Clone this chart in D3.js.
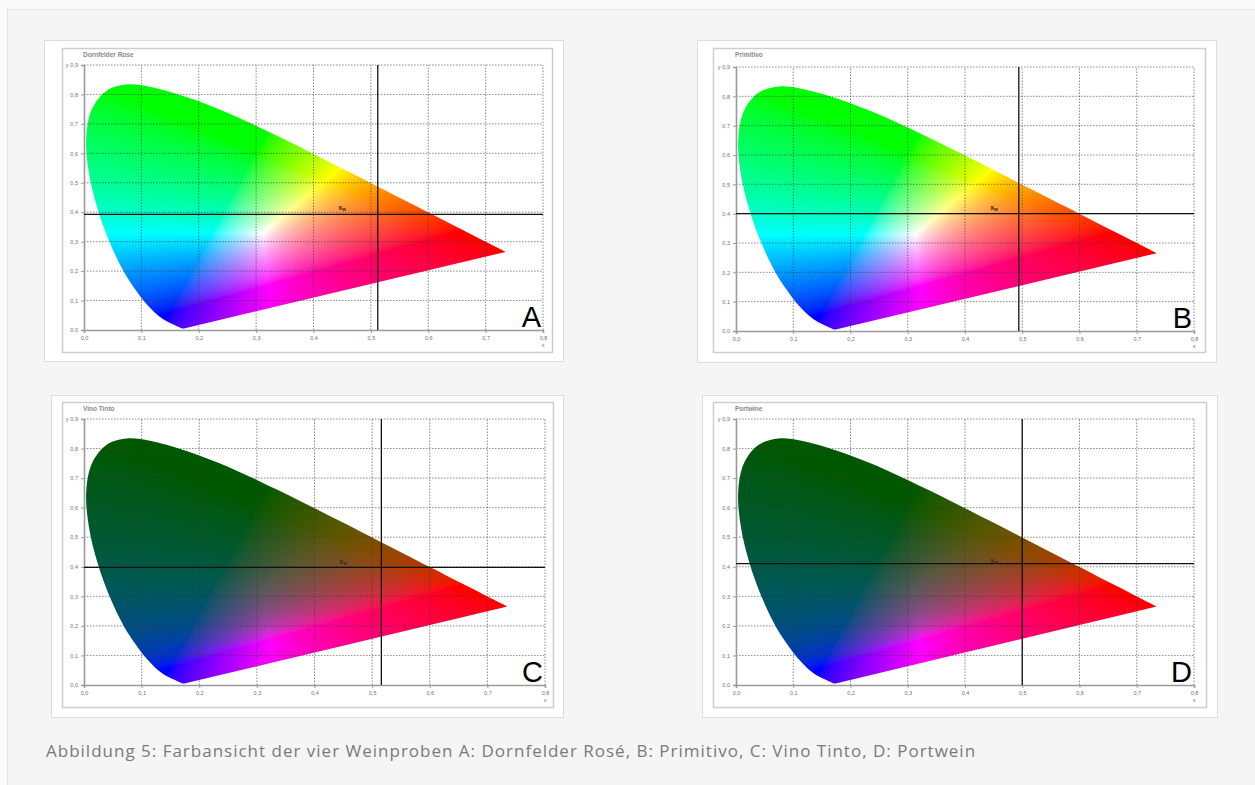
<!DOCTYPE html>
<html>
<head>
<meta charset="utf-8">
<script src="https://cdn.jsdelivr.net/npm/d3@7"></script>
<style>
body { margin: 0; background: #fafafa; }
</style>
</head>
<body>
<svg id="fig" width="1255" height="785"></svg>
<script>
// CIE 1931 spectral locus, 380..700 nm
var locusX = [0.1741, 0.1740, 0.1738, 0.1736, 0.1733, 0.1730, 0.1726, 0.1721, 0.1714, 0.1703,
    0.1689, 0.1669, 0.1644, 0.1611, 0.1566, 0.1510, 0.1440, 0.1355, 0.1241, 0.1096,
    0.0913, 0.0687, 0.0454, 0.0235, 0.0082, 0.0039, 0.0139, 0.0389, 0.0743, 0.1142,
    0.1547, 0.1929, 0.2296, 0.2658, 0.3016, 0.3373, 0.3731, 0.4087, 0.4441, 0.4788,
    0.5125, 0.5448, 0.5752, 0.6029, 0.6270, 0.6482, 0.6658, 0.6915, 0.7079, 0.7190,
    0.7260, 0.7300, 0.7334, 0.7347];
var locusY = [0.0050, 0.0050, 0.0049, 0.0049, 0.0048, 0.0048, 0.0048, 0.0048, 0.0051, 0.0058,
    0.0069, 0.0086, 0.0109, 0.0138, 0.0177, 0.0227, 0.0297, 0.0399, 0.0578, 0.0868,
    0.1327, 0.2007, 0.2950, 0.4127, 0.5384, 0.6548, 0.7502, 0.8120, 0.8338, 0.8262,
    0.8059, 0.7816, 0.7543, 0.7243, 0.6923, 0.6589, 0.6245, 0.5896, 0.5547, 0.5202,
    0.4866, 0.4544, 0.4242, 0.3965, 0.3725, 0.3514, 0.3340, 0.3083, 0.2920, 0.2809,
    0.2740, 0.2700, 0.2666, 0.2653];

var panelTitles = ["Dornfelder Rose", "Primitivo", "Vino Tinto", "Portwine"];
var panelLetters = ["A", "B", "C", "D"];
var crossX = [0.512, 0.494, 0.516, 0.500];
var crossY = [0.393, 0.400, 0.398, 0.411];
var markX = [0.443, 0.444, 0.443, 0.444];
var markY = [0.415, 0.418, 0.416, 0.420];
var darkSample = [false, false, true, true];

var xTicks = [0, 0.1, 0.2, 0.3, 0.4, 0.5, 0.6, 0.7, 0.8];
var yTicks = [0, 0.1, 0.2, 0.3, 0.4, 0.5, 0.6, 0.7, 0.8, 0.9];

var caption = "Abbildung 5: Farbansicht der vier Weinproben A: Dornfelder Rosé, B: Primitivo, C: Vino Tinto, D: Portwein";

// pixel layout of each picture
var layout = [
    { px: 44, py: 40, pw: 519, ph: 321, fx: 62, fy: 48, fw: 490, fh: 304, x0: 84, x1: 543, y0: 330, y1: 65 },
    { px: 697, py: 40, pw: 519, ph: 322, fx: 713, fy: 48, fw: 492, fh: 304, x0: 736, x1: 1194, y0: 331, y1: 67 },
    { px: 51, py: 395, pw: 512, ph: 322, fx: 62, fy: 402, fw: 491, fh: 305, x0: 84, x1: 545, y0: 685, y1: 419 },
    { px: 702, py: 395, pw: 515, ph: 322, fx: 713, fy: 402, fw: 493, fh: 305, x0: 736, x1: 1194, y0: 685, y1: 419 }
];

var svg = d3.select("#fig");
var fmt = function (d) { return d3.format(".1f")(d).replace(".", ","); };

svg.append("rect")
    .attr("x", 7.5).attr("y", 9.5)
    .attr("width", 1260).attr("height", 790)
    .attr("fill", "#f5f5f5")
    .attr("stroke", "#e3e3e3");

// chromaticity -> display colour
function xyColor(x, y, dark) {
    var X = x / y, Y = 1, Z = (1 - x - y) / y;
    var r = 3.2406 * X - 1.5372 * Y - 0.4986 * Z;
    var g = -0.9689 * X + 1.8758 * Y + 0.0415 * Z;
    var b = 0.0557 * X - 0.2040 * Y + 1.0570 * Z;
    r = Math.max(r, 0); g = Math.max(g, 0); b = Math.max(b, 0);
    var m = Math.max(r, g, b);
    r /= m; g /= m; b /= m;
    if (dark) {
        var s = 1 / (1 + 4.5 * g);
        r *= s; g *= s; b *= s;
    }
    var gam = function (c) { return Math.pow(c, 1 / 1.6); };
    return [gam(r) * 255, gam(g) * 255, gam(b) * 255];
}

layout.forEach(function (L, i) {
    var g = svg.append("g");

    g.append("rect")
        .attr("x", L.px + 0.5).attr("y", L.py + 0.5)
        .attr("width", L.pw).attr("height", L.ph)
        .attr("fill", "#fff")
        .attr("stroke", "#dcdcdc");

    g.append("rect")
        .attr("x", L.fx + 0.5).attr("y", L.fy + 0.5)
        .attr("width", L.fw).attr("height", L.fh)
        .attr("fill", "#fff")
        .attr("stroke", "#cdcdcd")
        .attr("stroke-width", 1.5);

    g.append("text")
        .attr("x", L.x0 - 1).attr("y", L.fy + 9)
        .attr("font-family", "Liberation Sans, Arial, sans-serif")
        .attr("font-weight", "bold")
        .attr("font-size", "6.5px")
        .attr("fill", "#8a8a8a")
        .text(panelTitles[i]);

    var x = d3.scaleLinear().domain([0, 0.8]).range([L.x0, L.x1]);
    var y = d3.scaleLinear().domain([0, 0.9]).range([L.y0, L.y1]);

    var locus = locusX.map(function (d, k) { return [d, locusY[k]]; });
    var locusLine = d3.line()
        .x(function (d) { return x(d[0]); })
        .y(function (d) { return y(d[1]); })
        .curve(d3.curveCatmullRom);

    g.append("clipPath").attr("id", "locus" + i)
        .append("path").attr("d", locusLine(locus) + "Z");

    // colour field
    var w = L.x1 - L.x0, h = L.y0 - L.y1;
    var canvas = document.createElement("canvas");
    canvas.width = w; canvas.height = h;
    var ctx = canvas.getContext("2d");
    var img = ctx.createImageData(w, h);
    for (var row = 0; row < h; row++) {
        for (var col = 0; col < w; col++) {
            var cx = x.invert(L.x0 + col + 0.5), cy = y.invert(L.y1 + row + 0.5);
            var k = (row * w + col) * 4;
            if (cy < 0.002) { img.data[k + 3] = 0; continue; }
            var c = xyColor(cx, cy, darkSample[i]);
            img.data[k] = c[0]; img.data[k + 1] = c[1]; img.data[k + 2] = c[2]; img.data[k + 3] = 255;
        }
    }
    ctx.putImageData(img, 0, 0);

    g.append("image")
        .attr("x", L.x0).attr("y", L.y1)
        .attr("width", w).attr("height", h)
        .attr("preserveAspectRatio", "none")
        .attr("href", canvas.toDataURL())
        .attr("clip-path", "url(#locus" + i + ")");

    // grid
    g.append("g").selectAll("line")
        .data(xTicks.slice(1))
        .join("line")
        .attr("x1", function (d) { return x(d); }).attr("x2", function (d) { return x(d); })
        .attr("y1", y(0)).attr("y2", y(0.9))
        .attr("stroke", "#3a3a3a")
        .attr("stroke-width", 0.8)
        .attr("stroke-dasharray", "1.5,1.5")
        .attr("opacity", 0.75);

    g.append("g").selectAll("line")
        .data(yTicks.slice(1))
        .join("line")
        .attr("x1", x(0)).attr("x2", x(0.8))
        .attr("y1", function (d) { return y(d); }).attr("y2", function (d) { return y(d); })
        .attr("stroke", "#3a3a3a")
        .attr("stroke-width", 0.8)
        .attr("stroke-dasharray", "1.5,1.5")
        .attr("opacity", 0.75);

    // axes
    var xAxis = g.append("g")
        .attr("transform", "translate(0," + L.y0 + ")")
        .call(d3.axisBottom(x).tickValues(xTicks).tickSize(3).tickFormat(fmt));
    var yAxis = g.append("g")
        .attr("transform", "translate(" + L.x0 + ",0)")
        .call(d3.axisLeft(y).tickValues(yTicks).tickSize(3).tickFormat(fmt));

    [xAxis, yAxis].forEach(function (a) {
        a.select(".domain").attr("stroke", "#9a9a9a").attr("stroke-width", 1.6);
        a.selectAll(".tick line").attr("stroke", "#9a9a9a");
        a.selectAll("text")
            .attr("font-family", "Liberation Sans, Arial, sans-serif")
            .attr("font-size", "5.5px")
            .attr("fill", "#707070");
    });

    g.append("text")
        .attr("x", L.x1).attr("y", L.y0 + 17)
        .attr("text-anchor", "middle")
        .attr("font-family", "Liberation Sans, Arial, sans-serif")
        .attr("font-size", "5.5px")
        .attr("fill", "#707070")
        .text("x");
    g.append("text")
        .attr("x", L.x0 - 17).attr("y", L.y1 + 2)
        .attr("text-anchor", "middle")
        .attr("font-family", "Liberation Sans, Arial, sans-serif")
        .attr("font-size", "5.5px")
        .attr("fill", "#707070")
        .text("y");

    // crosshair
    g.append("line")
        .attr("x1", x(crossX[i])).attr("x2", x(crossX[i]))
        .attr("y1", y(0)).attr("y2", y(0.9))
        .attr("stroke", "#111").attr("stroke-width", 1.3);
    g.append("line")
        .attr("x1", x(0)).attr("x2", x(0.8))
        .attr("y1", y(crossY[i])).attr("y2", y(crossY[i]))
        .attr("stroke", "#111").attr("stroke-width", 1.3);

    var m = g.append("text")
        .attr("x", x(markX[i])).attr("y", y(markY[i]) + 2)
        .attr("font-family", "Liberation Sans, Arial, sans-serif")
        .attr("font-size", "7px")
        .attr("font-weight", "bold")
        .attr("fill", "#3a2a1a")
        .text("x");
    m.append("tspan").attr("dy", 1).attr("font-size", "5px").text("w");

    g.append("text")
        .attr("x", L.x1 - 2).attr("y", L.y0 - 3)
        .attr("text-anchor", "end")
        .attr("font-family", "Liberation Sans, Arial, sans-serif")
        .attr("font-size", "29px")
        .attr("fill", "#000")
        .text(panelLetters[i]);
});

svg.append("text")
    .attr("x", 46).attr("y", 757)
    .attr("font-family", "Open Sans, sans-serif")
    .attr("font-size", "17px")
    .attr("letter-spacing", "1px")
    .attr("fill", "#7a7a7a")
    .text(caption);
</script>
</body>
</html>
